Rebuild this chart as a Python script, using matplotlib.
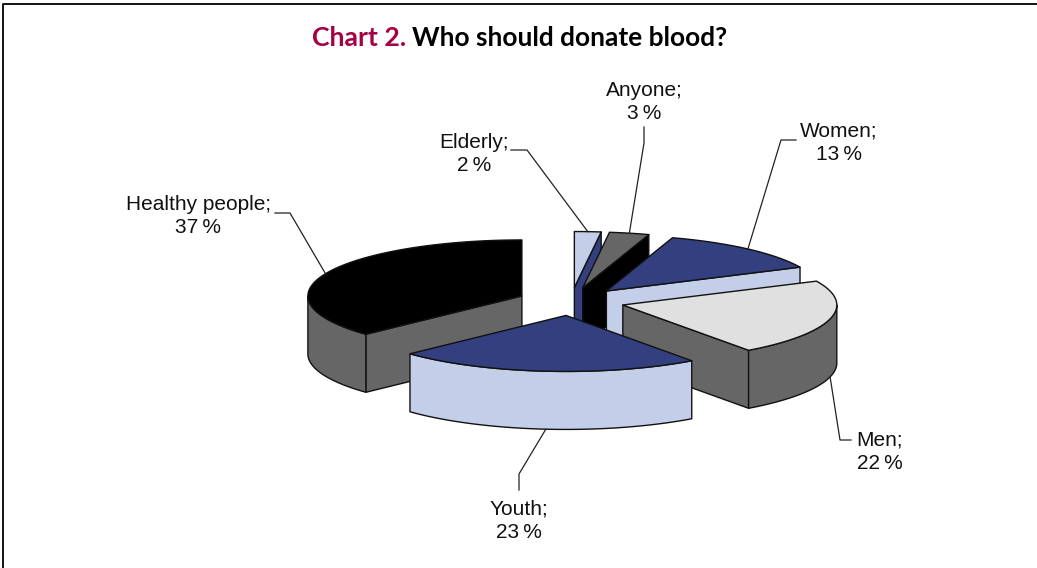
"""
Chart 2: exploded 3-D pie, built from the shares by hand.
"""
import numpy as np
from matplotlib import pyplot as plt

categories = ["Elderly", "Anyone", "Women", "Men", "Youth", "Healthy people"]
shares = [2, 3, 13, 22, 23, 37]

top_colors = ["#C3CFE9", "#666666", "#333F7F", "#E0E0E0", "#333F7F", "#000000"]
side_colors = ["#333F7F", "#000000", "#C3CFE9", "#666666", "#C3CFE9", "#666666"]
draw_order = [5, 0, 1, 2, 3, 4]

# leader elbow, leader end, label centre (pixels)
elbows = [(527, 150), (644, 143), (781, 140), (840, 440), (519, 474), (290, 213)]
ends = [(511, 150), (644, 127), (796, 140), (851, 440), (519, 490), (275, 213)]
label_pos = [(474, 154), (644, 102), (839, 143), (880, 452), (519, 521), (198, 216)]

cx, cy = 571, 301.5
rx, ry = 214, 56
depth = 58
explode = 0.25


def rim(angle, x0, y0):
    rad = np.radians(angle)
    return x0 + rx * np.sin(rad), y0 - ry * np.cos(rad)


fig = plt.figure(figsize=(10.37, 5.68), dpi=100)
ax = fig.add_axes([0, 0, 1, 1])
ax.set_xlim(0, 1037)
ax.set_ylim(568, 0)
ax.axis("off")

# frame, only left and top
ax.plot([3, 3, 1037], [568, 4, 4], color="black", lw=1.3)

edges = np.cumsum([0] + shares) * 3.6
z = 2
for i in draw_order:
    a, b = edges[i], edges[i + 1]
    mid = np.radians((a + b) / 2)
    x0 = cx + explode * rx * np.sin(mid)
    y0 = cy - explode * ry * np.cos(mid)
    kw = {"edgecolor": "#111111", "linewidth": 1.0, "joinstyle": "round"}

    # flat cut faces, only those turned to the viewer
    for angle, visible in ((a, np.sin(np.radians(a)) < -1e-6),
                           (b, np.sin(np.radians(b)) > 1e-6)):
        if visible:
            px, py = rim(angle, x0, y0)
            ax.fill([x0, px, px, x0], [y0, py, py + depth, y0 + depth],
                    facecolor=side_colors[i], zorder=z, **kw)
            z += 1

    # outer wall on the front half
    lo, hi = max(a, 90), min(b, 270)
    if lo < hi:
        px, py = rim(np.linspace(lo, hi, 60), x0, y0)
        ax.fill(np.r_[px, px[::-1]], np.r_[py, py[::-1] + depth],
                facecolor=side_colors[i], zorder=z, **kw)
        z += 1

    # top face
    px, py = rim(np.linspace(a, b, 80), x0, y0)
    ax.fill(np.r_[x0, px], np.r_[y0, py], facecolor=top_colors[i], zorder=z, **kw)
    z += 1

    # leader line and label
    sx, sy = rim((a + b) / 2, x0, y0)
    if 90 < (a + b) / 2 < 270:
        sy += depth
    ax.plot([sx, elbows[i][0], ends[i][0]], [sy, elbows[i][1], ends[i][1]],
            color="#222222", lw=0.9, zorder=50)
    ax.text(label_pos[i][0], label_pos[i][1],
            "{0};\n{1}\u2009%".format(categories[i], shares[i]),
            ha="center", va="center", fontsize=15, family="Liberation Sans",
            linespacing=1.29, color="#111111", zorder=60)

ax.text(312, 38, "Chart 2.", color="#A50044", fontsize=19.2, fontweight="bold",
        family="Lato", ha="left", va="center")
ax.text(412, 38, "Who should donate blood?", color="black", fontsize=18.9,
        fontweight="bold", family="Lato", ha="left", va="center")

plt.savefig("out.png", dpi=100)
